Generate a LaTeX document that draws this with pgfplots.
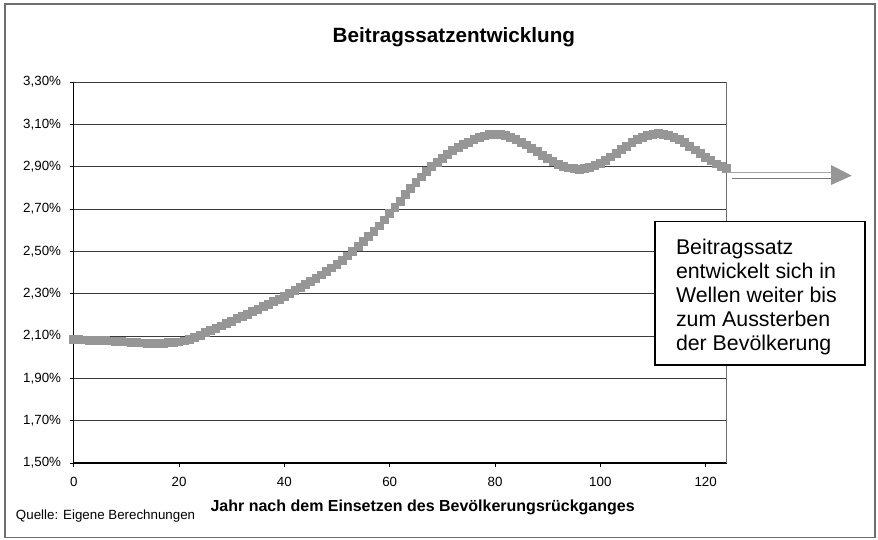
\documentclass[border=0pt]{standalone}
\usepackage{fontspec}
\setmainfont{Liberation Sans}
\usepackage{pgfplots}
\pgfplotsset{compat=1.18}
\definecolor{curve}{RGB}{150,150,150}
\definecolor{gridc}{RGB}{60,60,60}
\definecolor{frame}{RGB}{110,110,110}

\begin{document}
\begin{tikzpicture}
% page size = 878x539 px at 0.75pt/px
\path (0,0) rectangle (658.5pt,404.25pt);
\draw[frame, line width=0.8pt] (3.75pt,1pt) rectangle (656.25pt,401.25pt);

\begin{axis}[
    at={(55.3pt,57pt)}, anchor=south west,
    scale only axis,
    width=489.75pt, height=285.75pt,
    xmin=0, xmax=124,
    ymin=1.5, ymax=3.3,
    xtick={0,20,...,120},
    ytick={1.5,1.7,...,3.31},
    ymajorgrids,
    major grid style={gridc, line width=0.6pt},
    axis line style={draw=none},
    tick align=outside,
    major tick length=3pt,
    tick style={black, line width=0.7pt},
    xtick pos=bottom, ytick pos=left,
    /pgf/number format/assume math mode=true,
    tick label style={font=\fontsize{10}{12}\selectfont},
    yticklabel={\pgfmathprintnumber[fixed,fixed zerofill,precision=2,use comma]{\tick}\%},
    xticklabel style={yshift=-4pt},
    yticklabel style={xshift=-3pt},
    clip=false,
]
\addplot[curve, line width=2.4pt, mark=square*, mark size=2.1pt,
         mark options={fill=curve, draw=none}] coordinates {
(0,2.083) (1,2.082) (2,2.081) (3,2.080) (4,2.079) (5,2.078) (6,2.077) (7,2.076)
(8,2.074) (9,2.073) (10,2.072) (11,2.070) (12,2.069) (13,2.067) (14,2.066) (15,2.064)
(16,2.064) (17,2.066) (18,2.068) (19,2.070) (20,2.072) (21,2.076) (22,2.083) (23,2.093)
(24,2.104) (25,2.115) (26,2.125) (27,2.136) (28,2.147) (29,2.158) (30,2.170) (31,2.181)
(32,2.192) (33,2.203) (34,2.214) (35,2.226) (36,2.238) (37,2.250) (38,2.262) (39,2.274)
(40,2.286) (41,2.300) (42,2.314) (43,2.328) (44,2.342) (45,2.357) (46,2.372) (47,2.388)
(48,2.404) (49,2.421) (50,2.439) (51,2.458) (52,2.478) (53,2.500) (54,2.522) (55,2.545)
(56,2.569) (57,2.594) (58,2.620) (59,2.648) (60,2.677) (61,2.707) (62,2.737) (63,2.767)
(64,2.796) (65,2.824) (66,2.851) (67,2.876) (68,2.899) (69,2.920) (70,2.940) (71,2.958)
(72,2.975) (73,2.990) (74,3.004) (75,3.016) (76,3.027) (77,3.037) (78,3.045) (79,3.051)
(80,3.053) (81,3.051) (82,3.047) (83,3.039) (84,3.029) (85,3.016) (86,3.002) (87,2.987)
(88,2.971) (89,2.954) (90,2.939) (91,2.925) (92,2.912) (93,2.902) (94,2.894) (95,2.890)
(96,2.888) (97,2.890) (98,2.895) (99,2.904) (100,2.916) (101,2.930) (102,2.946) (103,2.963)
(104,2.980) (105,2.997) (106,3.013) (107,3.027) (108,3.039) (109,3.048) (110,3.053) (111,3.055)
(112,3.053) (113,3.048) (114,3.039) (115,3.027) (116,3.013) (117,2.996) (118,2.979) (119,2.961)
(120,2.944) (121,2.928) (122,2.913) (123,2.901) (124,2.892)
};
% plot area border: black left/bottom, grey right
\draw[black, line width=0.8pt] (rel axis cs:0,1) -- (rel axis cs:0,0) -- (rel axis cs:1,0);
\draw[frame, line width=0.6pt] (rel axis cs:1,0) -- (rel axis cs:1,1);
\end{axis}

% title, axis label, source
\node[font=\bfseries\fontsize{15.5}{18}\selectfont] at (340.4pt,376.7pt) {Beitragssatzentwicklung};
\node[font=\bfseries\fontsize{12}{14}\selectfont] at (317pt,23.8pt) {Jahr nach dem Einsetzen des Bevölkerungsrückganges};
\node[anchor=west, inner sep=0pt, font=\fontsize{10}{12}\selectfont] at (11.8pt,17.25pt) {Quelle: Eigene Berechnungen};

% arrow
\draw[color={rgb,255:red,165;green,165;blue,165}, line width=0.9pt] (545.25pt,274.7pt) -- (623.25pt,274.7pt);
\draw[color={rgb,255:red,120;green,120;blue,120}, line width=0.9pt] (548.8pt,270.5pt) -- (623.25pt,270.5pt);
\fill[curve] (623.25pt,280.5pt) -- (638.8pt,272.5pt) -- (623.25pt,265.5pt) -- cycle;

% text box
\draw[black, line width=1pt, fill=white] (491.25pt,130.5pt) rectangle (648.75pt,238pt);
\node[anchor=north west, inner sep=0pt, align=left, font=\fontsize{16}{18}\selectfont]
  at (506.8pt,225.5pt) {Beitragssatz\\entwickelt sich in\\Wellen weiter bis\\zum Aussterben\\der Bevölkerung};
\end{tikzpicture}
\end{document}
